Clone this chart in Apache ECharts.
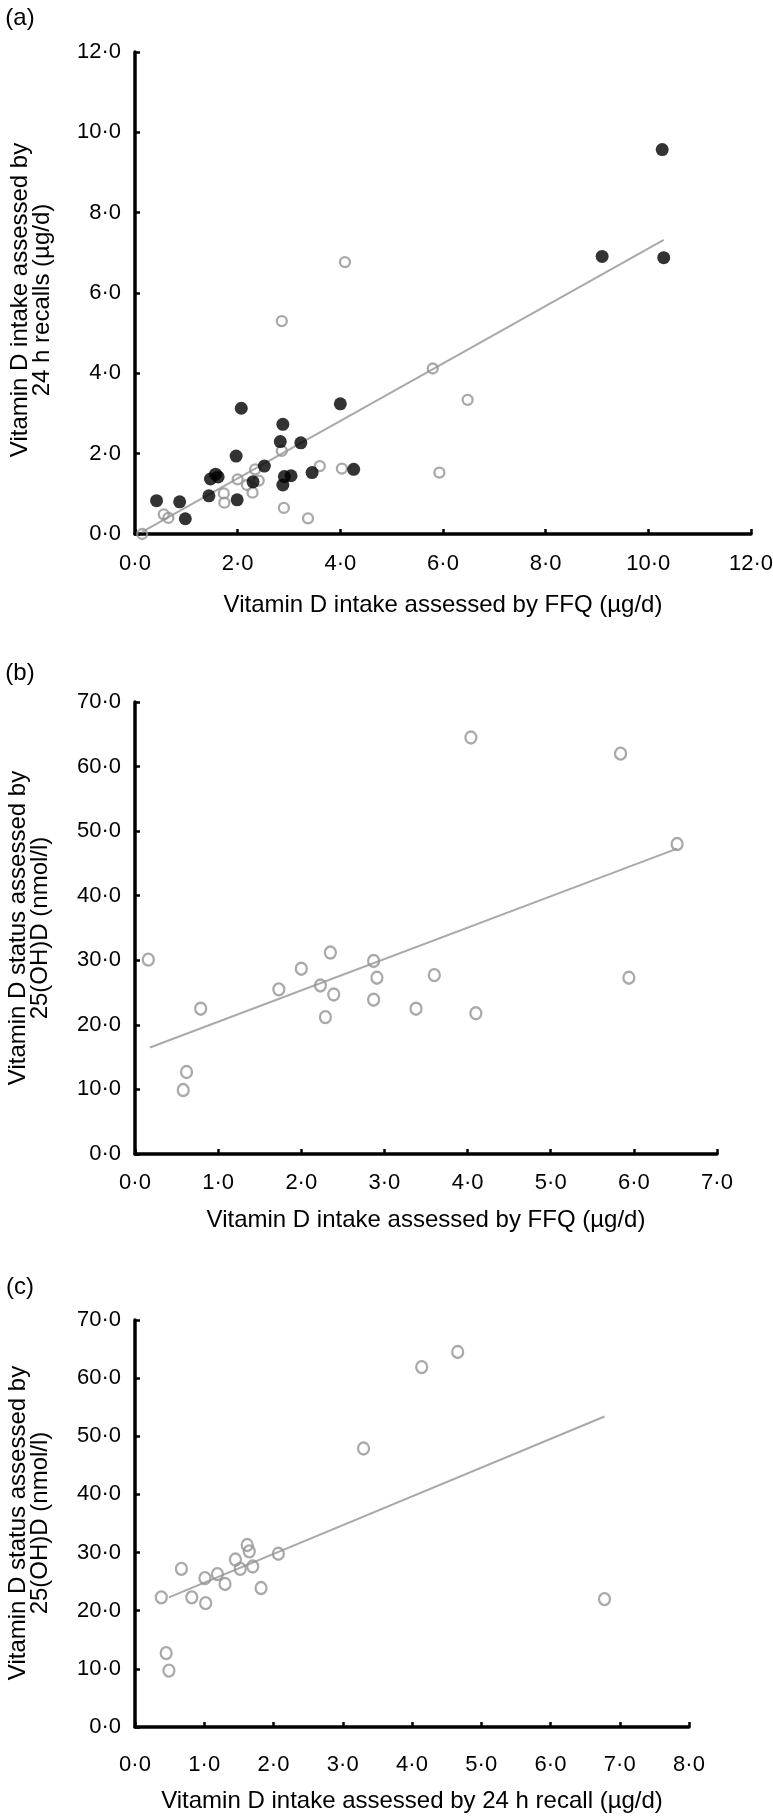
<!DOCTYPE html>
<html><head><meta charset="utf-8">
<script src="https://cdn.jsdelivr.net/npm/echarts@6/dist/echarts.min.js"></script>
<style>html,body{margin:0;padding:0;background:#fff}#c{width:773px;height:1817px}</style>
</head><body><div id="c"></div>
<script>
// ---------- Panel (a): 24 h recall vs FFQ (µg/d) ----------
const aFilledX = [0.42, 0.87, 0.98, 1.44, 1.47, 1.57, 1.62, 1.97, 1.99, 2.07, 2.30, 2.52, 2.83, 2.88, 2.88, 2.91, 3.04, 3.23, 3.45, 4.00, 4.26, 9.10, 10.27, 10.30];
const aFilledY = [0.83, 0.80, 0.38, 0.95, 1.37, 1.49, 1.42, 1.94, 0.85, 3.13, 1.30, 1.69, 2.30, 2.73, 1.22, 1.43, 1.45, 2.27, 1.53, 3.24, 1.61, 6.91, 9.57, 6.88];
const aOpenX = [0.14, 0.56, 0.65, 1.73, 1.74, 2.00, 2.18, 2.29, 2.34, 2.41, 2.86, 2.90, 2.86, 3.37, 3.60, 4.03, 4.09, 5.80, 5.93, 6.48];
const aOpenY = [0.00, 0.49, 0.40, 1.01, 0.78, 1.36, 1.22, 1.03, 1.61, 1.33, 2.07, 0.65, 5.30, 0.39, 1.69, 1.63, 6.77, 4.12, 1.53, 3.34];
const aFitX = [0.14, 10.30];
const aFitY = [0.05, 7.32];
const aTicksX = ['0·0', '2·0', '4·0', '6·0', '8·0', '10·0', '12·0'];
const aTicksY = ['0·0', '2·0', '4·0', '6·0', '8·0', '10·0', '12·0'];

// ---------- Panel (b): 25(OH)D vs FFQ ----------
const bX = [0.16, 0.58, 0.62, 0.79, 1.73, 2.00, 2.23, 2.29, 2.35, 2.39, 2.87, 2.87, 2.91, 3.38, 3.60, 4.04, 4.10, 5.84, 5.94, 6.52];
const bY = [30.1, 9.9, 12.7, 22.5, 25.5, 28.7, 26.1, 21.2, 31.2, 24.7, 23.9, 29.9, 27.3, 22.5, 27.7, 64.5, 21.8, 62.0, 27.3, 48.0];
const bFitX = [0.18, 6.52];
const bFitY = [16.5, 47.3];
const bTicksX = ['0·0', '1·0', '2·0', '3·0', '4·0', '5·0', '6·0', '7·0'];
const bTicksY = ['0·0', '10·0', '20·0', '30·0', '40·0', '50·0', '60·0', '70·0'];

// ---------- Panel (c): 25(OH)D vs 24 h recall ----------
const cX = [0.38, 0.45, 0.49, 0.67, 0.82, 1.02, 1.01, 1.19, 1.30, 1.45, 1.52, 1.62, 1.65, 1.70, 1.82, 2.07, 3.30, 4.14, 4.66, 6.78];
const cY = [22.3, 12.7, 9.7, 27.2, 22.3, 21.3, 25.6, 26.3, 24.6, 28.8, 27.2, 31.3, 30.2, 27.6, 23.9, 29.8, 47.9, 61.9, 64.5, 22.0];
const cFitX = [0.49, 6.78];
const cFitY = [22.3, 53.4];
const cTicksX = ['0·0', '1·0', '2·0', '3·0', '4·0', '5·0', '6·0', '7·0', '8·0'];
const cTicksY = ['0·0', '10·0', '20·0', '30·0', '40·0', '50·0', '60·0', '70·0'];

const FONT = '"Liberation Sans", Arial, Helvetica, sans-serif';
const zip = (xs, ys) => xs.map((x, i) => [x, ys[i]]);

function axis(gridIndex, interval, labels, margin) {
  return {
    type: 'value', gridIndex: gridIndex, min: 0, max: interval * (labels.length - 1), interval: interval,
    splitLine: { show: false },
    axisLine: { show: true, onZero: false, lineStyle: { color: '#000', width: 3.5 } },
    axisTick: { show: true, inside: true, length: 5, lineStyle: { color: '#000', width: 2.5 } },
    axisLabel: {
      color: '#000', fontFamily: FONT, fontSize: 22, margin: margin,
      formatter: v => labels[Math.round(v / interval)]
    }
  };
}

const openStyle = { color: 'rgba(0,0,0,0)', borderColor: '#949494', borderWidth: 2.3 };
function openSeries(gi, data, size) {
  return { type: 'scatter', xAxisIndex: gi, yAxisIndex: gi, data: data, symbol: 'circle', symbolSize: size, itemStyle: openStyle, z: 3, silent: true };
}
function fitSeries(gi, data) {
  return { type: 'line', xAxisIndex: gi, yAxisIndex: gi, data: data, showSymbol: false, symbol: 'none', lineStyle: { color: '#a9a9a9', width: 2 }, z: 2, silent: true };
}

function txt(text, x, y, opts) {
  return Object.assign({ type: 'text', x: x, y: y, silent: true,
    style: Object.assign({ text: text, fill: '#000', font: '24px ' + FONT, align: 'center', verticalAlign: 'middle' }, (opts && opts.style) || {}) },
    (opts && opts.rotation) ? { rotation: opts.rotation } : {});
}

const chart = echarts.init(document.getElementById('c'), null, { renderer: 'canvas' });
chart.setOption({
  animation: false,
  backgroundColor: '#fff',
  grid: [
    { left: 135, top: 52, width: 616, height: 482, outerBoundsMode: 'none', containLabel: false },
    { left: 135, top: 702, width: 582, height: 452, outerBoundsMode: 'none', containLabel: false },
    { left: 135, top: 1320, width: 554, height: 407, outerBoundsMode: 'none', containLabel: false }
  ],
  xAxis: [
    axis(0, 2, aTicksX, 19),
    axis(1, 1, bTicksX, 18),
    axis(2, 1, cTicksX, 27)
  ],
  yAxis: [
    axis(0, 2, aTicksY, 14),
    axis(1, 10, bTicksY, 14),
    axis(2, 10, cTicksY, 14)
  ],
  series: [
    fitSeries(0, zip(aFitX, aFitY)),
    openSeries(0, zip(aOpenX, aOpenY), 10),
    { type: 'scatter', xAxisIndex: 0, yAxisIndex: 0, data: zip(aFilledX, aFilledY), symbol: 'circle', symbolSize: 13, itemStyle: { color: '#000' }, z: 4, silent: true },
    fitSeries(1, zip(bFitX, bFitY)),
    openSeries(1, zip(bX, bY), [11, 12]),
    fitSeries(2, zip(cFitX, cFitY)),
    openSeries(2, zip(cX, cY), [11, 12])
  ],
  graphic: [
    txt('(a)', 20, 18),
    txt('(b)', 20, 673),
    txt('(c)', 20, 1287),
    txt('Vitamin D intake assessed by FFQ (µg/d)', 443, 605),
    txt('Vitamin D intake assessed by FFQ (µg/d)', 426, 1220),
    txt('Vitamin D intake assessed by 24 h recall (µg/d)', 412, 1801),
    txt('Vitamin D intake assessed by\n24 h recalls (µg/d)', 31, 300, { rotation: Math.PI / 2, style: { lineHeight: 22 } }),
    txt('Vitamin D status assessed by\n25(OH)D (nmol/l)', 29, 928, { rotation: Math.PI / 2, style: { lineHeight: 22 } }),
    txt('Vitamin D status assessed by\n25(OH)D (nmol/l)', 29, 1523, { rotation: Math.PI / 2, style: { lineHeight: 22 } })
  ]
});
</script></body></html>
